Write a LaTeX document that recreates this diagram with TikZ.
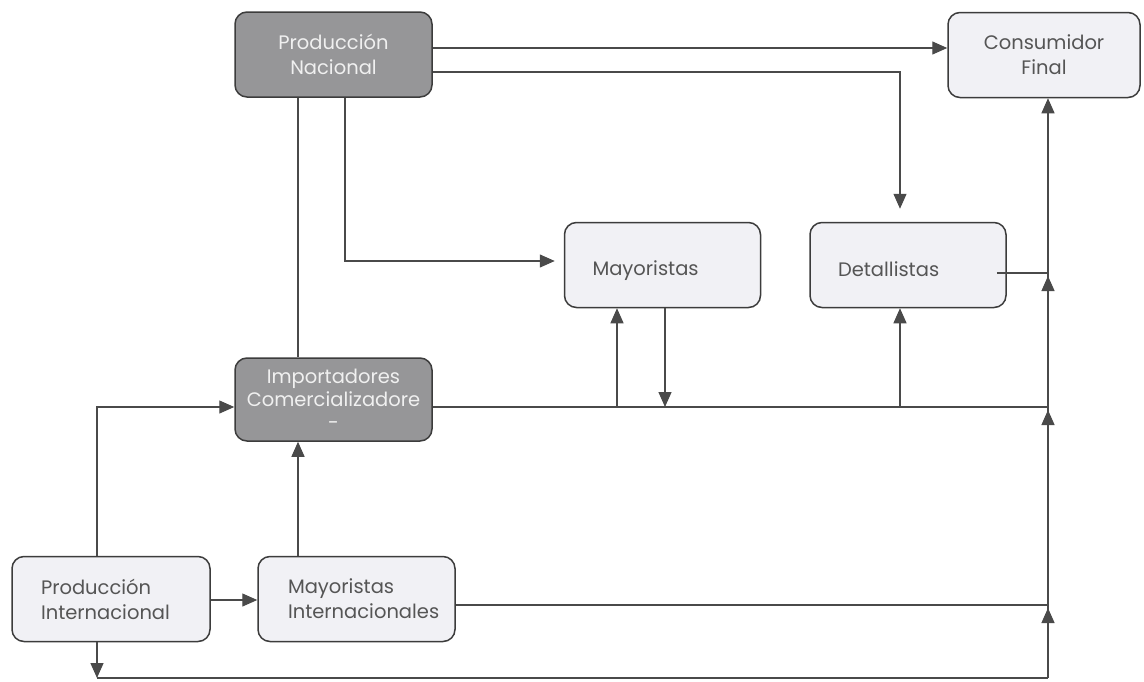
\documentclass[tikz,border=0pt]{standalone}
\usepackage{fontspec}
\setmainfont{Poppins}
\usetikzlibrary{arrows.meta}
\definecolor{darkbox}{HTML}{969698}
\definecolor{lightbox}{HTML}{F1F1F5}
\definecolor{edgec}{HTML}{3C3C3C}
\definecolor{linec}{HTML}{4A4A4A}
\definecolor{txt}{HTML}{555555}
\tikzset{
  box/.style={draw=edgec, line width=1.5pt, rounded corners=12pt, minimum height=85pt,
    inner ysep=0pt, font=\fontsize{19.5}{25}\selectfont},
  darkbx/.style={box, fill=darkbox, text=white!94!black, align=center, minimum width=197pt},
  lightc/.style={box, fill=lightbox, text=txt, align=center},
  lightl/.style={box, fill=lightbox, text=txt, align=left, inner xsep=28pt, text width=140pt},
  conn/.style={draw=linec, line width=1.3pt},
  arr/.style={conn, -{Triangle[length=15pt,width=13pt]}},
}
\begin{document}
\begin{tikzpicture}[x=1pt,y=-1pt]
\useasboundingbox[fill=white] (0,0) rectangle (1144,681);
\node[darkbx] (PN) at (333.5,54.5) {Producción\\Nacional};
\node[lightc, minimum width=192pt] (CF) at (1044,55) {Consumidor\\Final};
\node[lightl, minimum width=195pt, text height=24pt, text depth=4pt] (May) at (662.5,265) {Mayoristas};
\node[lightl, minimum width=196pt, text height=27pt, text depth=4pt] (Det) at (908,265) {Detallistas};
\node[darkbx, minimum height=83pt, font=\fontsize{19.5}{23}\selectfont] (Imp) at (333.5,399.5) {Importadores\\Comercializadore\\-};
\node[lightl, minimum width=198pt] (PI) at (111,599) {Producción\\Internacional};
\node[lightl, minimum width=197pt, inner xsep=30pt, text width=137pt] (MI) at (356.5,599) {Mayoristas\\Internacionales};

\coordinate (j1) at (617,407);
\coordinate (j2) at (665,407);
\coordinate (j3) at (900,407);
\coordinate (b1) at (1048,273);
\coordinate (b2) at (1048,407);
\coordinate (b3) at (1048,605);
\coordinate (b4) at (1048,678);
\coordinate (c0) at (97,678);

% from Produccion Nacional
\draw[arr] (PN.east |- 0,48) -- (CF.west |- 0,48);
\draw[arr, shorten >=13pt] (PN.east |- 0,72) -| (Det.north -| 900,0);
\draw[arr, shorten >=9pt] (PN.south -| 345,0) |- (May.west |- 0,261);
\draw[conn] (PN.south -| 298,0) -- (Imp.north -| 298,0);

% importadores bus
\draw[conn] (Imp.east |- b2) -- (b2);
\draw[arr] (j1) -- (May.south -| j1);
\draw[arr] (May.south -| j2) -- (j2);
\draw[arr] (j3) -- (Det.south -| j3);

% detallistas to bus
\draw[conn] ([xshift=-10pt]Det.east |- b1) -- (b1);

% international
\draw[arr] (PI.north -| 97,0) |- (Imp.west |- 0,407);
\draw[arr] (MI.north -| 298,0) -- (Imp.south -| 298,0);
\draw[arr] (PI.east |- 0,600) -- (MI.west |- 0,600);
\draw[conn] (MI.east |- b3) -- (b3);
\draw[arr] (PI.south -| c0) -- (c0);
\draw[conn] (c0) -- (b4);

% right bus to consumidor
\draw[arr] (b4) -- (CF.south -| b4);
\draw[arr] ([yshift=-28pt]b1) -- ([yshift=-3pt]b1);
\draw[arr] ([yshift=-28pt]b2) -- ([yshift=-3pt]b2);
\draw[arr] ([yshift=-28pt]b3) -- ([yshift=-3pt]b3);
\end{tikzpicture}
\end{document}
